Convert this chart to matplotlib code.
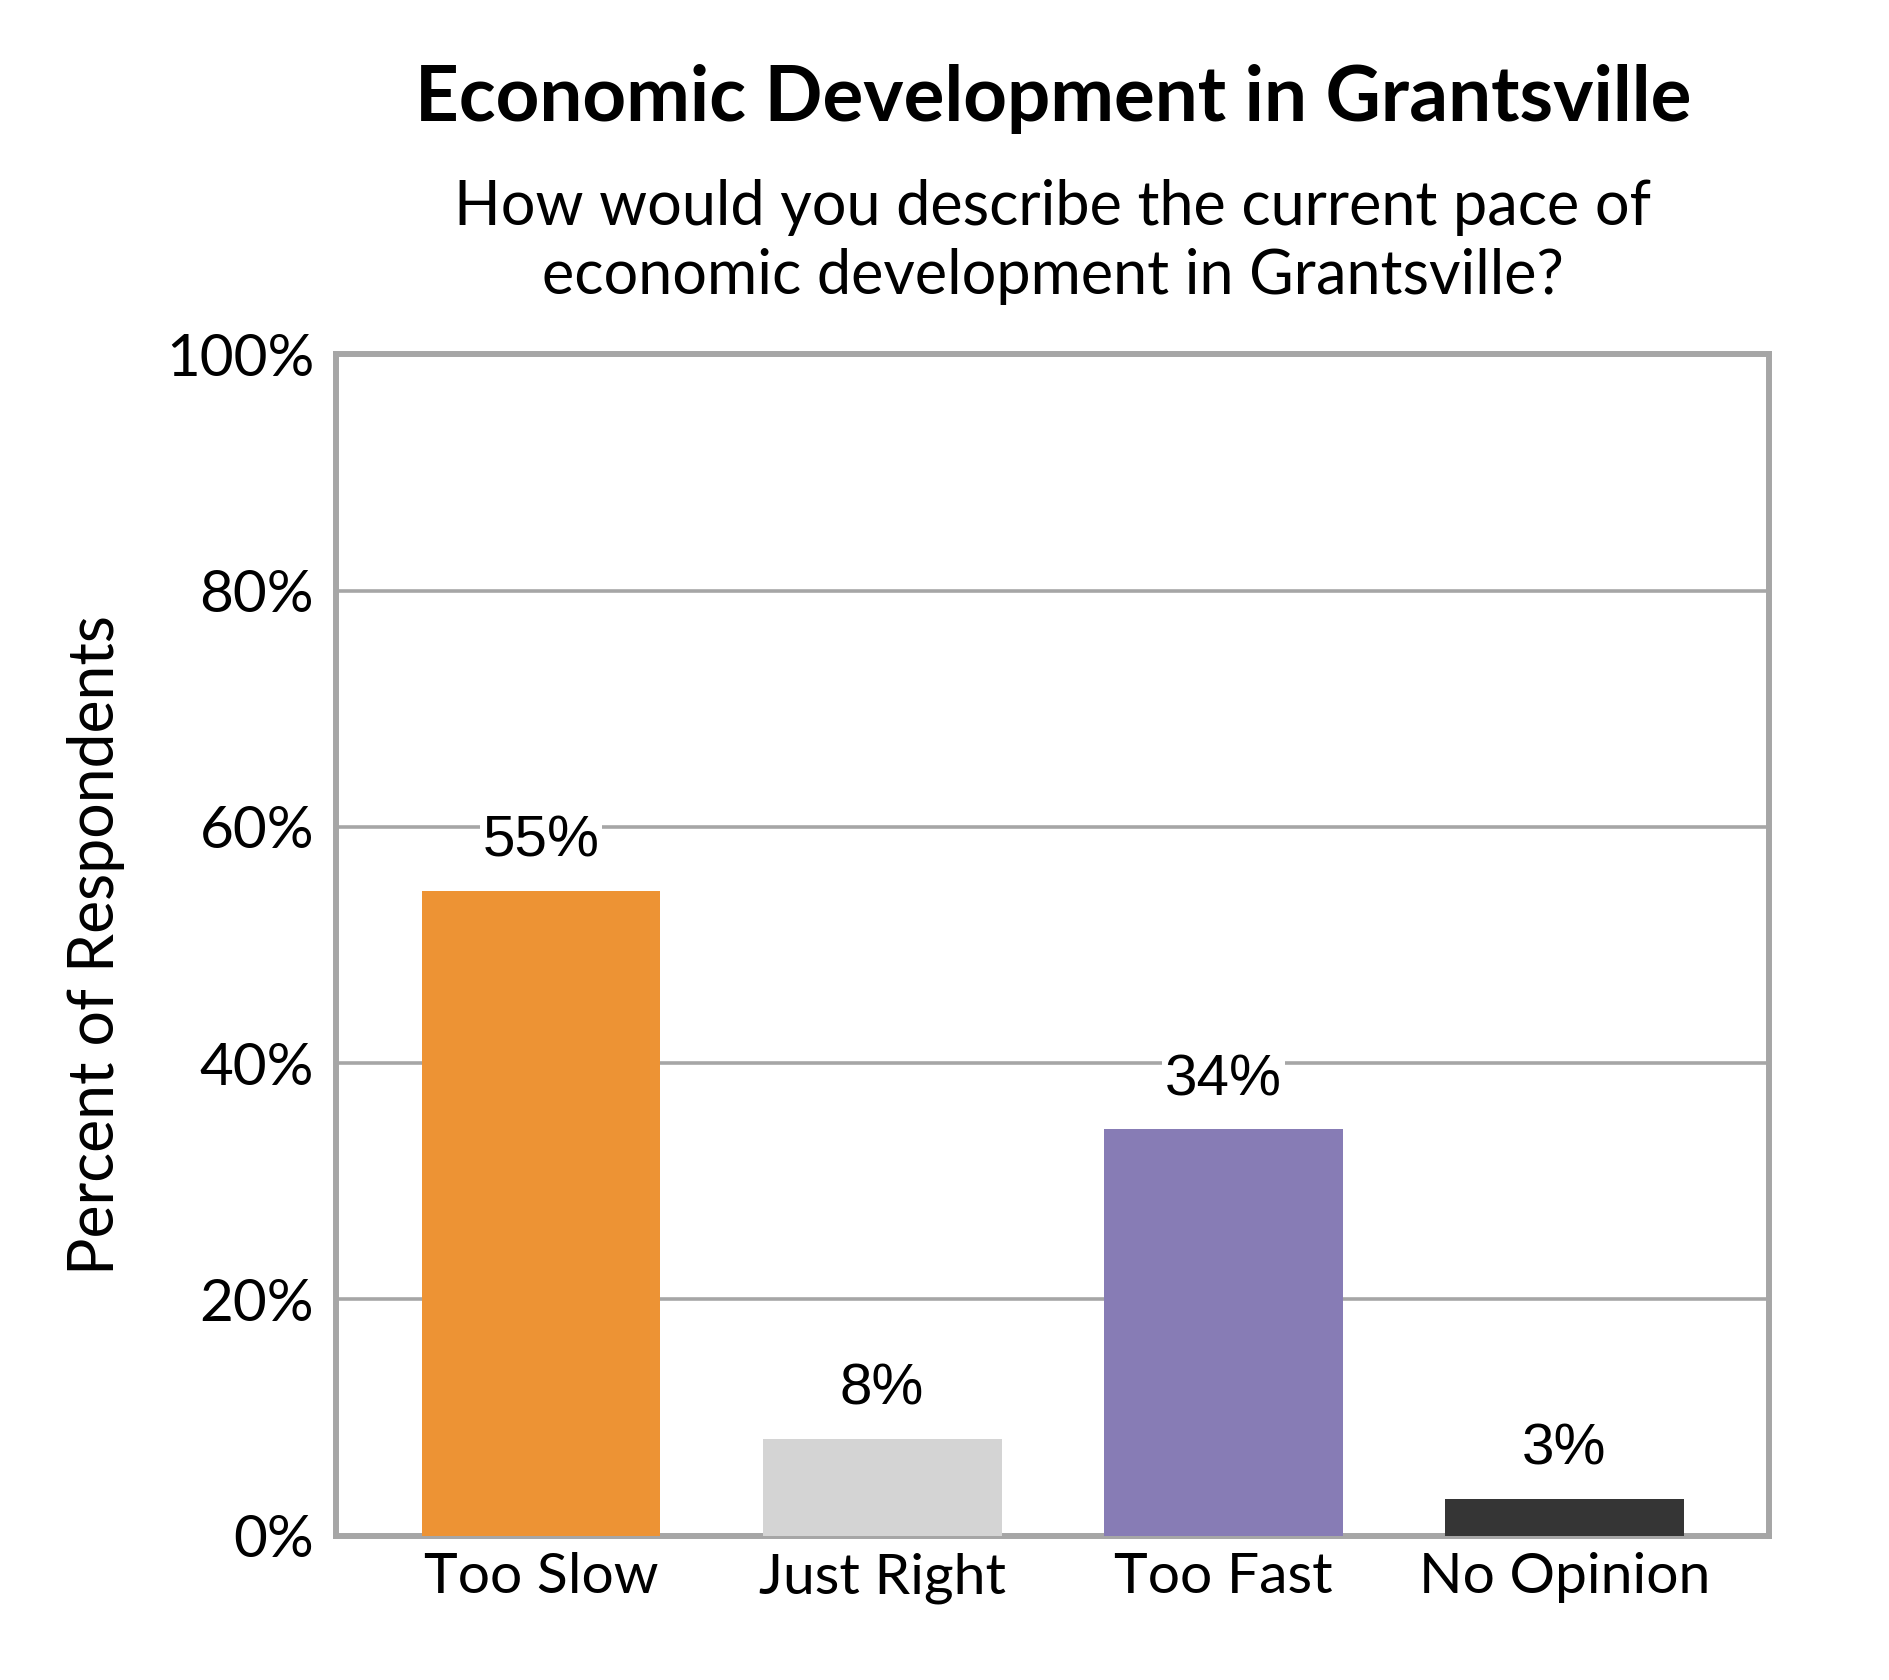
import matplotlib
matplotlib.use("Agg")
import matplotlib.pyplot as plt

categories = ["Too Slow", "Just Right", "Too Fast", "No Opinion"]
values = [54.6, 8.2, 34.4, 3.1]
labels = ["55%", "8%", "34%", "3%"]
colors = ["#ED9334", "#D4D4D4", "#877CB5", "#353535"]
yticks = [0, 20, 40, 60, 80, 100]

plt.rcParams['font.family'] = ['Lato', 'DejaVu Sans']

fig = plt.figure(figsize=(18.9, 16.8), dpi=100)
ax = fig.add_axes([0.178, 0.086, 0.758, 0.703])

x = range(len(categories))
ax.bar(x, values, width=0.70, color=colors, zorder=3)

# value labels sit on a white box so the gridlines break behind them
for xi, v, lab in zip(x, values, labels):
    ax.annotate(lab, (xi, v), xytext=(0, 16), textcoords='offset points',
                ha='center', va='bottom', fontsize=42,
                family=['Liberation Sans', 'DejaVu Sans'], zorder=4,
                bbox=dict(facecolor='white', edgecolor='none', pad=2))

ax.set_xlim(-0.6, 3.6)
ax.set_ylim(0, 100)
ax.set_yticks(yticks)
ax.set_yticklabels([f"{t}%" for t in yticks], fontsize=42)
ax.set_xticks(list(x))
ax.set_xticklabels(categories, fontsize=41)
ax.tick_params(length=0, pad=16)
ax.tick_params(axis='x', pad=12)

ax.grid(axis='y', color='#A6A6A6', linewidth=2.6, zorder=1)
for s in ax.spines.values():
    s.set_color('#A6A6A6')
    s.set_linewidth(4.3)
    s.set_zorder(2)

fig.text(0.051, 0.4375, "Percent of Respondents", rotation=90, ha='center',
         va='center', fontsize=45)

fig.text(0.557, 0.941, "Economic Development in Grantsville", ha='center',
         va='center', fontsize=55, fontweight='bold')
fig.text(0.557, 0.856, "How would you describe the current pace of\neconomic development in Grantsville?",
         ha='center', va='center', fontsize=44, linespacing=1.25)

fig.savefig("out.png", dpi=100, facecolor='white')
